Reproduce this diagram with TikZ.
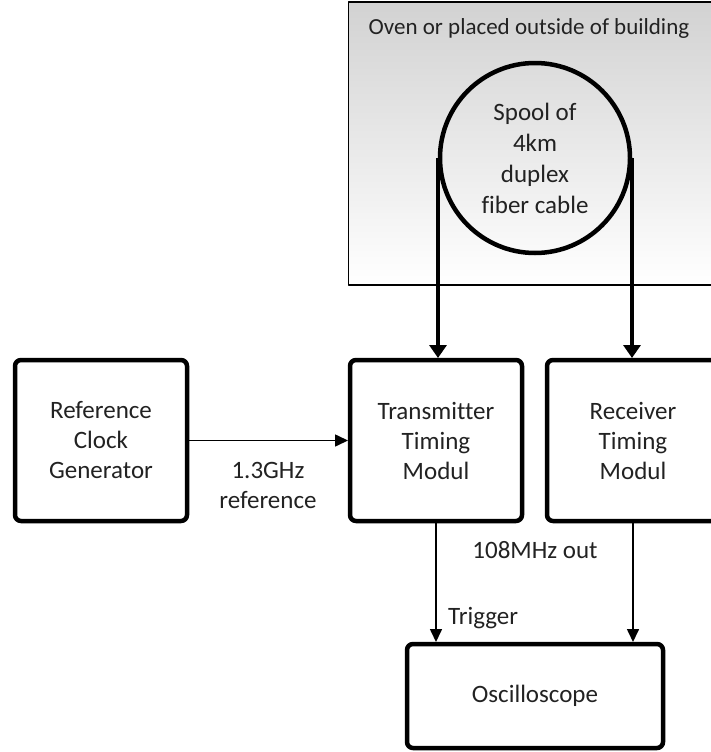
\documentclass[tikz,border=0pt]{standalone}
\usepackage{fontspec}
\setmainfont{Carlito}[Ligatures=NoCommon]
\usetikzlibrary{arrows.meta,positioning}
\definecolor{ink}{HTML}{222222}
\definecolor{ovengray}{HTML}{D2D2D2}
\tikzset{
    every picture/.style={line cap=round,line join=round},
    blockbox/.style={draw=black,line width=4.5pt,rounded corners=6pt,
      minimum width=172pt,minimum height=161pt,inner sep=2pt,outer sep=2pt,
      font=\fontsize{25}{30}\selectfont,text=ink,align=center},
    spoolnode/.style={draw=black,circle,line width=4.5pt,minimum size=190pt,
      inner sep=0pt,outer sep=2pt,font=\fontsize{25}{31}\selectfont,
      text=ink,align=center},
    ovenbox/.style={draw=black,line width=1.5pt,top color=ovengray,
      bottom color=white,minimum width=368pt,minimum height=283pt,inner sep=0pt},
    fiberarrow/.style={-{Triangle[length=13pt,width=17pt]},draw=black,
      line width=4.5pt,line cap=butt},
    sigarrow/.style={-{Triangle[length=13pt,width=12pt]},draw=black,
      line width=1.6pt,line cap=butt},
    edgelabel/.style={inner sep=1pt,text=ink,align=center,
      font=\fontsize{25}{30}\selectfont}
}

\begin{document}
\begin{tikzpicture}[x=1pt,y=1pt]
  \useasboundingbox (0,0) rectangle (711,-752);
  % oven with the fibre spool
  \node[ovenbox] (oven) at (532.5,-143.5) {};
  \node[edgelabel,font=\fontsize{23}{28}\selectfont] (ovenlbl) at (529,-28)
    {Oven or placed outside of building};
  \node[spoolnode] (spool) at (535,-158) {Spool of\\4km\\duplex\\fiber cable};
  % modules
  \node[blockbox] (refclk) at (101,-440.5) {Reference\\Clock\\Generator};
  \node[blockbox,right=159pt of refclk] (tx) {Transmitter\\Timing\\Modul};
  \node[blockbox,right=21pt of tx] (rx) {Receiver\\Timing\\Modul};
  \node[blockbox,minimum width=256pt,minimum height=104pt] (osc)
    at (535,-696) {Oscilloscope};
  % fibres
  \draw[fiberarrow] (spool.west) -- (spool.west |- tx.north);
  \draw[fiberarrow] (spool.east) -- (spool.east |- rx.north);
  % signals
  \draw[sigarrow] (refclk) -- (tx);
  \draw[sigarrow] (tx.south) -- (tx.south |- osc.north);
  \draw[sigarrow] (rx.south) -- (rx.south |- osc.north);
  \node[edgelabel] (reflbl) at (268,-485) {1.3GHz\\reference};
  \node[edgelabel] (outlbl) at (535,-550) {108MHz out};
  \node[edgelabel,anchor=west] (triglbl) at (447,-618) {Trigger};
\end{tikzpicture}
\end{document}
